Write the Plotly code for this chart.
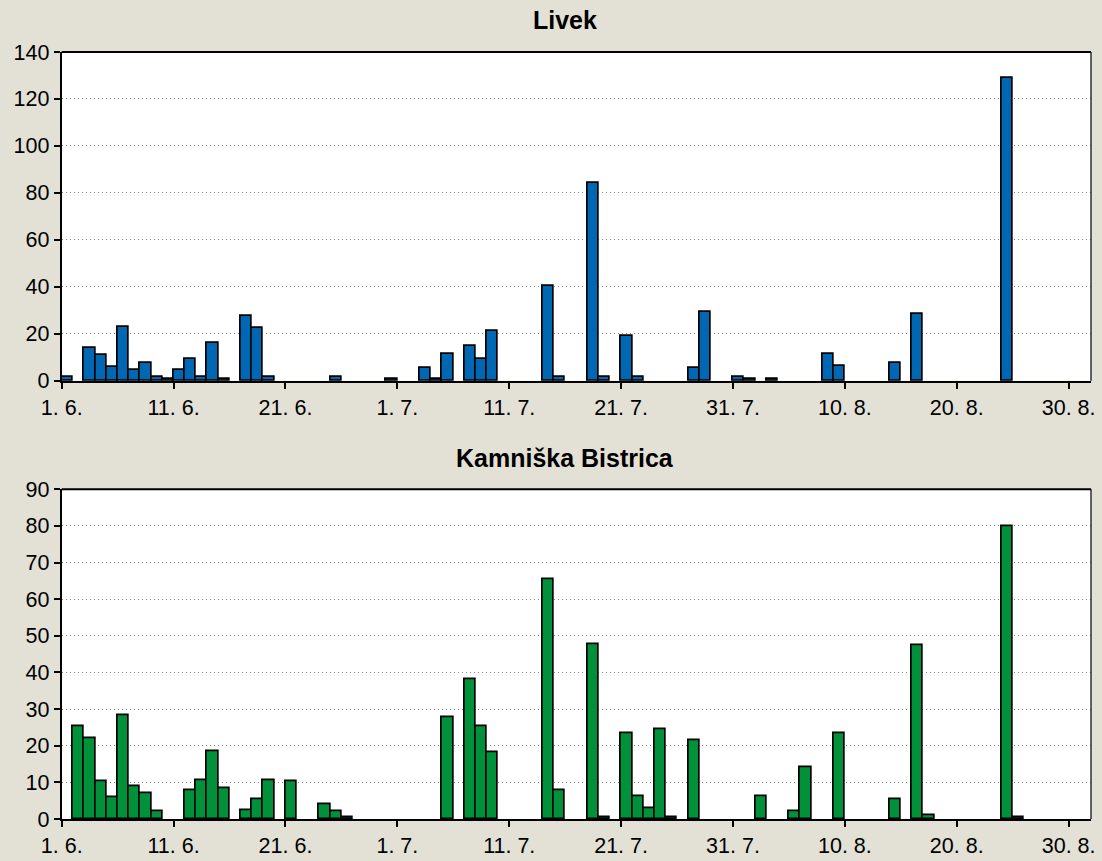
import plotly.graph_objects as go

# Daily values, index 0 = 1. 6., index 91 = 31. 8.
livek = [1.5, 0, 13.8, 10.8, 6.0, 23.0, 4.5, 7.7, 1.6, 0.8,
         4.5, 9.2, 1.6, 16.2, 0.8, 0, 27.6, 22.3, 1.6, 0,
         0, 0, 0, 0, 1.6, 0, 0, 0, 0, 0.8,
         0, 0, 5.3, 0.8, 11.5, 0, 14.6, 9.2, 21.3, 0,
         0, 0, 0, 40.5, 1.6, 0, 0, 84.3, 1.6, 0,
         19.2, 1.6, 0, 0, 0, 0, 5.4, 29.1, 0, 0,
         1.6, 0.8, 0, 0.8, 0, 0, 0, 0, 11.5, 6.1,
         0, 0, 0, 0, 7.7, 0, 28.4, 0, 0, 0,
         0, 0, 0, 0, 128.8, 0, 0, 0, 0, 0,
         0, 0]

kamniska = [0, 25.4, 22.0, 10.2, 5.8, 28.3, 8.8, 6.9, 2.0, 0,
            0, 7.8, 10.7, 18.5, 8.3, 0, 2.4, 5.3, 10.7, 0,
            10.2, 0, 0, 3.9, 2.0, 0.5, 0, 0, 0, 0,
            0, 0, 0, 0, 27.7, 0, 38.0, 25.4, 18.1, 0,
            0, 0, 0, 65.4, 7.8, 0, 0, 47.8, 0.5, 0,
            23.4, 6.3, 2.8, 24.5, 0.5, 0, 21.5, 0, 0, 0,
            0, 0, 6.3, 0, 0, 2.0, 14.2, 0, 0, 23.4,
            0, 0, 0, 0, 5.3, 0, 47.4, 1.0, 0, 0,
            0, 0, 0, 0, 80.0, 0.5, 0, 0, 0, 0,
            0, 0]

tick_days = [0, 10, 20, 30, 40, 50, 60, 70, 80, 90]
tick_labels = ["1. 6.", "11. 6.", "21. 6.", "1. 7.", "11. 7.", "21. 7.",
               "31. 7.", "10. 8.", "20. 8.", "30. 8."]

titles = ["Livek", "Kamniška Bistrica"]
colors = ["#0068B2", "#00913A"]

W, H = 1102, 861
BG = "#E3E0D5"
FONT = "Liberation Sans, Arial, Helvetica, sans-serif"

x_left, x_right = 61.7, 1091.0
top_dom = (52.0, 380.7)
bot_dom = (489.3, 819.0)


def ydom(d):
    return [1 - d[1] / H, 1 - d[0] / H]


days = [i + 0.5 for i in range(len(livek))]

fig = go.Figure()
for k, (vals, col) in enumerate([(livek, colors[0]), (kamniska, colors[1])]):
    ax = "" if k == 0 else "2"
    fig.add_trace(go.Bar(
        x=days, y=[v if v > 0 else None for v in vals],
        width=1.0, marker=dict(color=col, line=dict(color="black", width=1.7)),
        xaxis="x" + ax, yaxis="y" + ax, showlegend=False,
        hoverinfo="x+y",
    ))

xdom = [x_left / W, x_right / W]
common_x = dict(
    domain=xdom, range=[0, 92], tickmode="array", tickvals=tick_days,
    ticktext=tick_labels, ticks="outside", ticklen=6, tickwidth=1.5,
    tickcolor="black", showline=True, linecolor="black", linewidth=2,
    mirror=False, showgrid=False, zeroline=False,
    tickfont=dict(family=FONT, size=21.5, color="black"), automargin=False,
)
common_y = dict(
    ticks="outside", ticklen=6, tickwidth=1.5, tickcolor="black",
    showline=True, linecolor="black", linewidth=2, mirror=False,
    showgrid=True, gridcolor="#8C8C8C", gridwidth=1, griddash="1px,3px",
    zeroline=False, tickfont=dict(family=FONT, size=21.5, color="black"),
    automargin=False,
)

fig.update_layout(
    width=W, height=H,
    margin=dict(l=0, r=0, t=0, b=0),
    paper_bgcolor=BG, plot_bgcolor="white",
    bargap=0,
    xaxis=dict(common_x, anchor="y"),
    yaxis=dict(common_y, domain=ydom(top_dom), range=[0, 140], dtick=20, anchor="x"),
    xaxis2=dict(common_x, anchor="y2"),
    yaxis2=dict(common_y, domain=ydom(bot_dom), range=[0, 90], dtick=10, anchor="x2"),
    font=dict(family=FONT, color="black"),
)

# plot-area borders (top thick, right thin)
for dom in (top_dom, bot_dom):
    y0, y1 = ydom(dom)
    fig.add_shape(type="line", xref="paper", yref="paper", x0=xdom[0], x1=xdom[1],
                  y0=y1, y1=y1, line=dict(color="black", width=2))
    fig.add_shape(type="line", xref="paper", yref="paper", x0=xdom[1], x1=xdom[1],
                  y0=y0, y1=y1, line=dict(color="black", width=1.2))

# titles
for t, yc in zip(titles, (20, 458)):
    fig.add_annotation(text="<b>%s</b>" % t, xref="paper", yref="paper",
                       x=565 / W, y=1 - yc / H, showarrow=False,
                       xanchor="center", yanchor="middle",
                       font=dict(family=FONT, size=25, color="black"))

fig.write_html(
    "out.html",
    config={"displayModeBar": False},
    post_script="document.body.style.margin='0';document.body.style.overflow='hidden';"
                "document.body.style.background='%s';" % BG,
)
